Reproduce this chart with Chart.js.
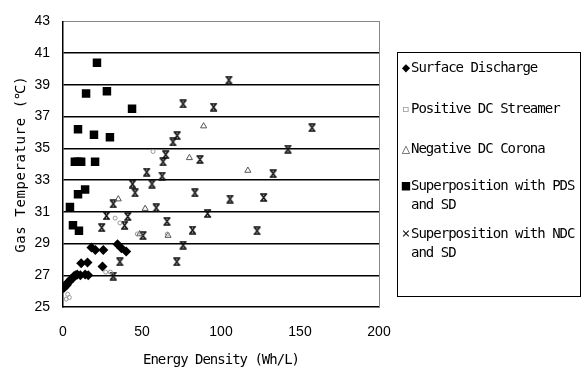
<!DOCTYPE html>
<html>
<head>
<meta charset="utf-8">
<script src="https://cdn.jsdelivr.net/npm/chart.js@4.4.1/dist/chart.umd.min.js"></script>
<style>
html,body{margin:0;padding:0;background:#fff;}
#wrap{position:relative;width:584px;height:373px;}
#legend{position:absolute;left:397px;top:52px;width:182px;height:243px;border:1px solid #000;font-family:'DejaVu Sans Mono',monospace;font-size:14px;letter-spacing:-1px;color:#000;}
.item{position:absolute;left:3px;line-height:19px;white-space:pre;}
.mk{display:inline-block;width:10px;text-align:center;letter-spacing:0;}
</style>
</head>
<body>
<div id="wrap">
<canvas id="c" width="584" height="373"></canvas>
<div id="legend"></div>
</div>
<script>
// ---- data ----
const seriesNames = ["Surface Discharge","Positive DC Streamer","Negative DC Corona","Superposition with PDS\nand SD","Superposition with NDC\nand SD"];
const xTicks = [0,50,100,150,200];
const yTicks = [25,27,29,31,33,35,37,39,41,43];

const sdX = [0.5,1.5,2.5,3,4,5,6,7,8,9,11,14,16,11.5,15.5,18,20.5,25.5,25,34.5,37,40];
const sdY = [26.2,26.3,26.4,26.55,26.6,26.75,26.8,26.95,27.0,27.05,27.0,27.05,27.0,27.75,27.8,28.75,28.6,28.6,27.55,28.95,28.7,28.5];

const pdsX = [2,3,4,27,30,33,36,57,47,66];
const pdsY = [25.5,25.8,25.6,27.2,27.2,30.6,30.3,34.8,29.6,29.6];

const ndcX = [52,48.5,66.5,80,117,89,35];
const ndcY = [31.2,29.6,29.5,34.4,33.6,36.4,31.8];

const supPX = [21.5,14.6,27.8,43.7,9.5,19.6,29.7,7.5,9.5,11.5,20.3,4.4,9.5,14,6.3,10.1];
const supPY = [40.4,38.45,38.6,37.5,36.2,35.85,35.7,34.15,34.15,34.15,34.15,31.3,32.1,32.4,30.15,29.8];

const supNX = [31.8,36,72,76,50.6,82,122.8,24.5,39,41,27.5,65.8,91.5,31.8,59,105.7,127,45.6,83.5,44,56.3,62.7,53,133,63.3,65,86.7,142.4,69.6,72.2,157.6,76,95.3,105];
const supNY = [26.95,27.85,27.85,28.9,29.5,29.85,29.8,30.0,30.15,30.7,30.75,30.4,30.9,31.5,31.25,31.8,31.9,32.2,32.2,32.75,32.75,33.25,33.5,33.4,34.15,34.6,34.3,34.95,35.4,35.8,36.3,37.8,37.6,39.3];

const pts = (xs, ys) => xs.map((x, i) => ({x, y: ys[i]}));

function starImg(){
  const c = document.createElement('canvas'); c.width = 9; c.height = 9;
  const g = c.getContext('2d'); g.strokeStyle = '#111'; g.lineWidth = 1.6;
  g.beginPath();
  g.moveTo(1,1); g.lineTo(8,1);
  g.moveTo(1,8); g.lineTo(8,8);
  g.moveTo(2,1); g.lineTo(7,8);
  g.moveTo(7,1); g.lineTo(2,8);
  g.stroke();
  return c;
}

const spacingPlugin = {
  id: 'titleSpacing',
  afterLayout(chart){
    [['x','-1px'],['y','0.6px']].forEach(([id, sp]) => {
      const s = chart.scales[id];
      if (s && !s._wrapT){
        const orig = s.drawTitle;
        s.drawTitle = function(...a){ const ctx = this.ctx; ctx.save(); ctx.letterSpacing = sp; orig.apply(this, a); ctx.restore(); };
        s._wrapT = true;
      }
    });
  }
};

new Chart(document.getElementById('c'), {
  type: 'scatter',
  data: {
    datasets: [
      {label: seriesNames[0], data: pts(sdX, sdY), pointStyle: 'rectRot', pointRadius: 5, backgroundColor: '#000', borderColor: '#000', borderWidth: 0},
      {label: seriesNames[1], data: pts(pdsX, pdsY), pointStyle: 'circle', pointRadius: 2, backgroundColor: 'rgba(0,0,0,0)', borderColor: '#999', borderWidth: 1},
      {label: seriesNames[2], data: pts(ndcX, ndcY), pointStyle: 'triangle', pointRadius: 3.5, backgroundColor: 'rgba(0,0,0,0)', borderColor: '#555', borderWidth: 1},
      {label: seriesNames[3], data: pts(supPX, supPY), pointStyle: 'rect', pointRadius: 6, backgroundColor: '#000', borderColor: '#000', borderWidth: 0},
      {label: seriesNames[4], data: pts(supNX, supNY), pointStyle: starImg(), pointRadius: 4}
    ]
  },
  options: {
    responsive: false,
    animation: false,
    events: [],
    layout: {padding: {left: 0, right: 205, top: 12, bottom: 0}},
    plugins: {legend: {display: false}, tooltip: {enabled: false}},
    scales: {
      x: {
        type: 'linear', position: 'bottom', min: 0, max: 200,
        afterBuildTicks: s => { s.ticks = xTicks.map(v => ({value: v})); },
        afterFit: s => { s.height = 66; },
        ticks: {font: {family: 'Liberation Sans', size: 14}, color: '#000', padding: 17},
        grid: {drawOnChartArea: false, drawTicks: false},
        border: {color: '#000', width: 1.5},
        title: {display: true, text: 'Energy Density (Wh/L)', font: {family: 'DejaVu Sans Mono', size: 14}, color: '#000', padding: {top: 0, bottom: 4}}
      },
      x2: {
        type: 'linear', position: 'top', min: 0, max: 200,
        afterFit: s => { s.height = 0; },
        ticks: {display: false},
        grid: {drawOnChartArea: false, drawTicks: false},
        border: {color: '#888', width: 1, dash: [1, 2]}
      },
      y: {
        type: 'linear', position: 'left', min: 25, max: 43,
        afterBuildTicks: s => { s.ticks = yTicks.map(v => ({value: v})); },
        afterFit: s => { s.width = 63; },
        ticks: {font: {family: 'Liberation Sans', size: 14}, color: '#000', padding: 13},
        grid: {
          drawTicks: false,
          color: c => (c.tick && (c.tick.value === 43 || c.tick.value === 25)) ? 'rgba(0,0,0,0)' : '#000',
          lineWidth: 1.5
        },
        border: {color: '#000', width: 1.5},
        title: {display: true, text: 'Gas Temperature (℃)', font: {family: 'DejaVu Sans Mono', size: 14}, color: '#000', padding: {top: 13, bottom: 0}}
      },
      y2: {
        type: 'linear', position: 'right', min: 25, max: 43,
        afterFit: s => { s.width = 0; },
        ticks: {display: false},
        grid: {drawOnChartArea: false, drawTicks: false},
        border: {color: '#888', width: 1, dash: [1, 2]}
      }
    }
  },
  plugins: [spacingPlugin]
});

// ---- HTML legend ----
const markers = ['◆', '▫', '△', '■', '×'];
const markerColors = ['#000', '#999', '#555', '#000', '#111'];
const rowTops = [14, 55, 95, 132, 180];
const leg = document.getElementById('legend');
seriesNames.forEach((name, i) => {
  const lines = name.split('\n');
  lines.forEach((ln, j) => {
    const d = document.createElement('div');
    d.className = 'item';
    d.style.top = (rowTops[i] + j * 19 - 9.5) + 'px';
    d.innerHTML = (j === 0 ? '<span class="mk" style="color:' + markerColors[i] + '">' + markers[i] + '</span>' : '<span class="mk"></span>') + ln.replace(/&/g,'&amp;');
    leg.appendChild(d);
  });
});
</script>
</body>
</html>
